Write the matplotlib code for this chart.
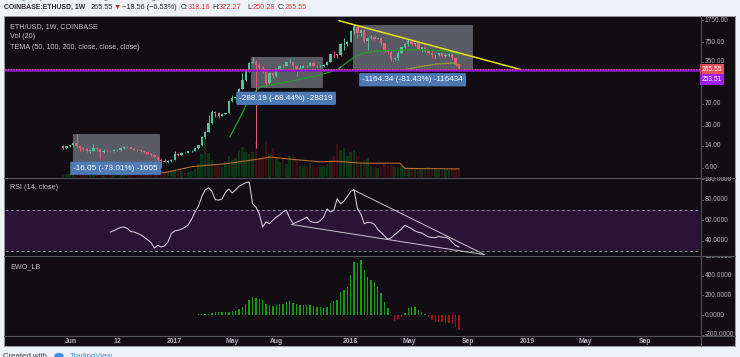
import numpy as np
import pandas as pd
import matplotlib
matplotlib.use("Agg")
import matplotlib.pyplot as plt
import matplotlib.dates as mdates
from matplotlib.patches import Rectangle
from matplotlib.lines import Line2D
from matplotlib.transforms import blended_transform_factory as blend

plt.rcParams['font.family'] = ['Liberation Sans', 'DejaVu Sans']

# ---------------- data ----------------
first_week = '2016-05-16'
opens = [13.9, 12.9, 13.6, 14.3, 15.5, 14.0, 12.6, 12.2, 11.5, 11.6,
         12.8, 12.2, 10.9, 11.6, 11.3, 11.2, 12.0, 11.8, 12.7, 13.2,
         13.1, 12.3, 11.9, 11.85, 11.2, 10.9, 10.3, 9.9, 8.9, 8.2,
         7.9, 7.6, 7.9, 8.2, 10.2, 9.7, 10.65, 10.55, 11.3, 11.4,
         12.8, 14.1, 19.3, 24.0, 33.5, 50.5, 50.0, 43.5, 48.0, 49.4,
         79.0, 88.0, 90.0, 125.0, 172.0, 245.0, 340.0, 355.0, 305.0, 290.0,
         240.0, 155.0, 225.0, 200.0, 270.0, 300.0, 295.0, 345.0, 352.0, 295.0,
         255.0, 282.0, 302.0, 298.0, 337.0, 300.0, 296.0, 298.0, 315.0, 355.0,
         470.0, 465.0, 450.0, 690.0, 700.0, 755.0, 1150.0, 1350.0, 1050.0, 1170.0,
         790.0, 860.0, 925.0, 840.0, 860.0, 720.0, 540.0, 520.0, 385.0, 400.0,
         500.0, 615.0, 685.0, 780.0, 685.0, 710.0, 570.0, 620.0, 525.0, 495.0,
         453.0, 456.0, 490.0, 435.0, 460.0, 465.0, 405.0, 318.16]
highs = [14.3, 13.9, 14.6, 15.9, 21.98, 14.4, 13.1, 12.6, 12.3, 14.9,
         13.1, 12.3, 12.1, 11.9, 11.6, 12.3, 12.2, 13.1, 13.6, 13.6,
         13.3, 12.6, 12.2, 12.0, 11.3, 11.1, 10.4, 10.2, 9.0, 8.5,
         8.4, 8.1, 8.5, 11.3, 10.6, 10.9, 10.8, 11.6, 11.7, 13.0,
         14.4, 19.9, 24.6, 44.6, 55.0, 53.5, 51.0, 49.0, 50.0, 80.0,
         98.0, 92.0, 130.0, 230.0, 250.0, 345.0, 421.1, 380.0, 330.0, 300.0,
         245.0, 240.0, 230.0, 275.0, 315.0, 320.0, 350.0, 395.0, 355.0, 310.0,
         305.0, 305.0, 305.0, 348.0, 345.0, 310.0, 310.0, 325.0, 357.0, 480.0,
         525.0, 475.0, 720.0, 880.0, 780.0, 1180.0, 1429.8, 1350.0, 1190.0, 1180.0,
         900.0, 970.0, 960.0, 890.0, 880.0, 730.0, 570.0, 530.0, 410.0, 530.0,
         630.0, 710.0, 835.0, 795.0, 730.0, 720.0, 625.0, 630.0, 540.0, 540.0,
         470.0, 500.0, 495.0, 485.0, 480.0, 470.0, 410.0, 322.27]
lows = [12.4, 12.2, 13.2, 13.8, 13.0, 11.2, 11.4, 11.0, 10.6, 11.5,
        11.3, 8.5, 10.7, 10.8, 10.9, 11.0, 11.3, 11.6, 12.5, 12.8,
        12.1, 11.8, 11.6, 11.0, 10.4, 10.2, 9.4, 8.6, 7.7, 5.93,
        7.4, 7.2, 7.5, 8.1, 9.4, 9.6, 10.4, 10.4, 10.9, 11.3,
        12.3, 14.0, 17.8, 23.5, 32.0, 42.5, 41.0, 43.0, 46.5, 49.0,
        76.0, 79.0, 86.0, 125.0, 170.0, 240.0, 335.0, 13.0, 270.0, 230.0,
        132.9, 150.0, 185.0, 195.0, 255.0, 280.0, 295.0, 330.0, 250.0, 200.0,
        250.0, 280.0, 285.0, 295.0, 295.0, 285.0, 285.0, 285.0, 305.0, 352.0,
        400.0, 410.0, 440.0, 560.0, 650.0, 740.0, 1020.0, 880.0, 960.0, 760.0,
        560.0, 840.0, 800.0, 835.0, 680.0, 520.0, 480.0, 360.0, 365.0, 375.0,
        490.0, 600.0, 650.0, 660.0, 655.0, 560.0, 520.0, 520.0, 475.0, 410.0,
        400.0, 440.0, 425.0, 430.0, 445.0, 395.0, 300.0, 250.28]
closes = [12.9, 13.6, 14.3, 15.5, 14.0, 12.6, 12.2, 11.5, 11.6, 12.8,
          12.2, 10.9, 11.6, 11.3, 11.2, 12.0, 11.8, 12.7, 13.2, 13.1,
          12.3, 11.9, 11.85, 11.2, 10.9, 10.3, 9.9, 8.9, 8.2, 7.9,
          7.6, 7.9, 8.2, 10.2, 9.7, 10.6, 10.55, 11.3, 11.4, 12.8,
          14.1, 19.3, 24.0, 33.5, 50.5, 50.0, 43.5, 48.0, 49.4, 79.0,
          88.0, 90.0, 125.0, 172.0, 245.0, 340.0, 355.0, 305.0, 290.0, 240.0,
          155.0, 225.0, 200.0, 270.0, 300.0, 295.0, 345.0, 352.0, 295.0, 255.0,
          282.0, 302.0, 298.0, 337.0, 300.0, 296.0, 298.0, 315.0, 355.0, 470.0,
          465.0, 450.0, 690.0, 700.0, 755.0, 1150.0, 1350.0, 1050.0, 1170.0, 790.0,
          860.0, 925.0, 840.0, 860.0, 720.0, 540.0, 520.0, 385.0, 400.0, 500.0,
          615.0, 685.0, 780.0, 685.0, 710.0, 570.0, 620.0, 525.0, 495.0, 455.0,
          456.0, 490.0, 435.0, 460.0, 465.0, 405.0, 318.16, 265.55]
volumes = [2, 3, 3, 4, 8, 5, 4, 4, 3, 4,
           5, 6, 3, 3, 3, 3, 3, 3, 3, 3,
           3, 3, 3, 3, 3, 3, 4, 4, 4, 5,
           5, 6, 5, 7, 6, 6, 5, 5, 6, 8,
           14, 24, 39, 25, 18, 14, 12, 10, 16, 22,
           18, 20, 28, 31, 26, 24, 26, 37, 20, 22,
           37, 24, 30, 20, 16, 20, 14, 22, 24, 18,
           12, 12, 10, 15, 12, 11, 10, 12, 14, 18,
           22, 35, 28, 30, 22, 26, 28, 22, 14, 18,
           20, 12, 10, 9, 10, 14, 12, 13, 11, 10,
           12, 10, 9, 8, 9, 8, 9, 8, 10, 8,
           8, 7, 7, 8, 7, 8, 9, 8]
volma_dates = ['2016-09-26', '2016-11-26', '2016-12-12', '2017-02-08', '2017-04-19',
               '2017-06-27', '2017-07-18', '2017-09-03', '2017-10-29', '2017-12-03',
               '2018-01-26', '2018-04-13', '2018-04-23', '2018-08-13']
volma_values = [3.5, 4, 4.5, 11, 14, 19, 21, 18.5, 16, 16.5, 14.5, 14.5, 9, 8.5]

tema50_dates = ['2017-04-26', '2017-05-23', '2017-06-06', '2017-06-27', '2017-08-22',
                '2017-10-29', '2017-12-03', '2018-01-06', '2018-01-26', '2018-02-25',
                '2018-04-19', '2018-05-24', '2018-07-19', '2018-08-11']
tema50_values = [19.5, 51, 91, 133, 161, 211, 256, 406, 492, 532, 552, 558, 532, 474]
tema100_dates = ['2018-04-19', '2018-05-24', '2018-06-28', '2018-07-31', '2018-08-11']
tema100_values = [256, 291, 323, 335, 310]

rsi_first = 14
rsi_values = [48.5, 49.8, 51.5, 53.0, 53.4, 52.0, 49.0, 48.5, 47.3, 45.7,
              43.5, 41.0, 38.2, 33.0, 35.5, 34.0, 35.0, 38.8, 47.0, 49.5,
              50.3, 51.3, 53.0, 55.5, 61.0, 68.0, 73.5, 83.0, 89.5, 91.5,
              88.0, 80.0, 79.5, 80.7, 87.0, 90.3, 86.5, 89.5, 93.0, 94.7,
              96.5, 97.1, 76.0, 72.8, 66.0, 53.4, 58.3, 56.6, 60.0, 63.0,
              65.0, 68.0, 69.6, 62.0, 56.6, 58.0, 59.5, 61.0, 63.0, 59.0,
              58.0, 57.6, 59.5, 63.0, 71.0, 68.0, 69.6, 80.9, 76.0, 78.5,
              83.0, 88.0, 89.6, 71.0, 66.0, 56.6, 58.0, 57.5, 56.0, 51.0,
              48.0, 44.5, 41.5, 43.0, 46.0, 48.5, 51.5, 55.0, 53.5, 51.8,
              49.5, 48.3, 47.6, 45.5, 43.7, 43.3, 43.0, 44.4, 43.4, 43.5,
              42.0, 38.5, 35.5, 34.0]
ewo_first = 40
ewo_values = [7, 7, 7, 14, 17, 27, 27, 27, 27, 34,
              45, 45, 62, 79, 110, 155, 179, 175, 168, 148,
              113, 103, 93, 100, 113, 117, 131, 141, 127, 110,
              100, 103, 103, 107, 93, 86, 82, 76, 86, 124,
              144, 151, 230, 258, 289, 412, 543, 533, 557, 460,
              385, 361, 333, 285, 223, 131, 69, -10, -58, -45,
              -17, 17, 69, 86, 86, 52, 34, 7, -21, -52,
              -69, -69, -76, -79, -86, -93, -120, -155]

range_starts = ['2016-06-05', '2017-06-08', '2018-01-06']
range_ends = ['2016-11-30', '2017-11-02', '2018-09-09']
range_highs = [21.98, 421.1, 1429.8]
range_lows = [5.93, 132.91, 265.46]
range_labels = ['-16.05 (-73.01%) -1605', '-288.19 (-68.44%) -28819',
                '-1164.34 (-81.43%) -116434']

trend_dates = ['2017-12-08', '2018-12-20']
trend_prices = [1703, 259]
support_level = 253.51
last_price = 265.55

rsi_up_dates = ['2018-01-06', '2018-10-05']
rsi_up_values = [89.6, 26.5]
rsi_lo_dates = ['2017-08-31', '2018-10-05']
rsi_lo_values = [55.9, 26.5]

price_ticks = [6, 14, 30, 70, 150, 350, 750, 1750]
rsi_ticks = [40, 60, 80, 100]
ewo_ticks = [-200, 0, 200, 400, 600]
time_tick_dates = ['2016-06-01', '2016-09-05', '2017-01-02', '2017-05-01', '2017-08-01',
                   '2018-01-01', '2018-05-01', '2018-09-01', '2019-01-01', '2019-05-01',
                   '2019-09-01']
time_tick_labels = ['Jun', '12', '2017', 'May', 'Aug', '2018', 'May', 'Sep', '2019', 'May', 'Sep']

# ---------------- layout helpers ----------------
W, H = 740, 357
def R(x0, y0, x1, y1):
    return [x0 / W, 1 - y1 / H, (x1 - x0) / W, (y1 - y0) / H]

def D(s):
    return mdates.date2num(pd.Timestamp(s))

dates = pd.date_range(first_week, periods=len(closes), freq='W-MON')
xd = mdates.date2num(dates)
o, h, l, c = map(np.array, (opens, highs, lows, closes))
X0 = D(first_week)
XL = (X0 - 119.9, X0 + 1317.3)

BG = '#110d13'
UP, DN = '#52c497', '#e2607a'
TXT = '#c4c4c8'
AXTXT = '#b4b4ba'

fig = plt.figure(figsize=(7.4, 3.57), dpi=100)
fig.patch.set_facecolor('#eef1f5')

bg = fig.add_axes(R(4, 16, 735, 346))
bg.set_facecolor(BG)
bg.set_xticks([]); bg.set_yticks([])
for s in bg.spines.values():
    s.set_color('#9a9aa0'); s.set_linewidth(0.7)

def panel(rect):
    a = fig.add_axes(rect)
    a.patch.set_alpha(0)
    a.set_xticks([]); a.set_yticks([])
    for s in a.spines.values():
        s.set_visible(False)
    a.set_xlim(*XL)
    return a

# volume
axv = panel(R(5, 17, 700, 177))
axv.set_ylim(0, 168)
vcol = ['#0b3814' if cc >= oo else '#3e0d15' for oo, cc in zip(o, c)]
axv.bar(xd, volumes, width=5.4, color=vcol, linewidth=0)
axv.plot([D(d) for d in volma_dates], volma_values, color='#b86a30', lw=0.8)

# main price
ax = panel(R(5, 17, 700, 177))
ax.set_yscale('log')
ax.set_ylim(4.197, 1964)
ax.set_xticks([]); ax.set_yticks([])
ax.yaxis.set_minor_locator(matplotlib.ticker.NullLocator())

for s, e, hi, lo in zip(range_starts, range_ends, range_highs, range_lows):
    ax.add_patch(Rectangle((D(s), lo), D(e) - D(s), hi - lo, fc='#a3a9b8', alpha=0.5,
                           ec='#b8bdc8', lw=0.4, zorder=1))

cols = [UP if cc >= oo else DN for oo, cc in zip(o, c)]
ax.vlines(xd, l, h, colors=cols, lw=0.7, zorder=3)
body_lo = np.minimum(o, c)
body_h = np.maximum(np.abs(c - o), body_lo * 0.012)
ax.bar(xd, body_h, bottom=body_lo, width=4.8, color=cols, linewidth=0, zorder=4)

ax.plot([D(d) for d in tema50_dates], tema50_values, color='#1f9f25', lw=0.9, zorder=5)
ax.plot([D(d) for d in tema100_dates], tema100_values, color='#8e9a30', lw=0.9, zorder=5)
ax.plot([D(d) for d in trend_dates], trend_prices, color='#e4e41a', lw=1.1, zorder=6)
ax.axhline(support_level, color='#8f18cf', lw=1.8, zorder=6)
ax.axhline(last_price, color='#e4596a', lw=0.8, ls=(0, (1, 1.4)), zorder=7)

label_off_pt = [-0.2, -8.1, -7.7]
for s, e, lo, txt, off in zip(range_starts, range_ends, range_lows, range_labels, label_off_pt):
    ax.annotate(txt, xy=((D(s) + D(e)) / 2, lo), xytext=(0, off), textcoords='offset points',
                ha='center', va='center', color='white', fontsize=5.9, zorder=8,
                bbox=dict(boxstyle='round,pad=0.38,rounding_size=0.15', fc='#4d79b4', ec='none'))

# RSI
axr = panel(R(5, 178, 700, 255))
axr.set_ylim(26.2, 101)
axr.axhspan(30, 70, color='#2a1336', lw=0)
for lv in (30, 70):
    axr.axhline(lv, color='#8e8a96', lw=0.7, ls=(0, (3, 2.5)))
axr.plot(mdates.date2num(dates[rsi_first:]), rsi_values, color='#d6d0dc', lw=0.75)
axr.plot([D(d) for d in rsi_up_dates], rsi_up_values, color='#c9c6d0', lw=0.7)
axr.plot([D(d) for d in rsi_lo_dates], rsi_lo_values, color='#c9c6d0', lw=0.7)

# EWO
axe = panel(R(5, 256, 700, 335))
axe.set_ylim(-204, 602)
ev = np.array(ewo_values)
axe.bar(mdates.date2num(dates[ewo_first:]), ev, width=2.9,
        color=['#179c17' if v >= 0 else '#a51212' for v in ev], linewidth=0)

# separators
def hline(y, x0=4, x1=735, col='#55555c', lw=0.8):
    fig.add_artist(Line2D([x0 / W, x1 / W], [1 - y / H] * 2, color=col, lw=lw))
hline(177.5); hline(255.5); hline(335.5)
fig.add_artist(Line2D([700.5 / W] * 2, [1 - 16 / H, 1 - 346 / H], color='#55555c', lw=0.8))

# right scales
def scale(y0, y1, pax, ticks, fmt):
    sa = panel(R(700.5, y0, 735, y1))
    sa.set_xlim(0, 1)
    sa.set_yscale(pax.get_yscale())
    # map the panel's value range onto this (possibly taller) strip
    p0, p1 = pax.get_position().y0, pax.get_position().y1
    q0, q1 = sa.get_position().y0, sa.get_position().y1
    lo, hi = pax.get_ylim()
    if pax.get_yscale() == 'log':
        f = lambda v: np.log10(v)
        g = lambda v: 10 ** v
    else:
        f = lambda v: v
        g = lambda v: v
    k = (f(hi) - f(lo)) / (p1 - p0)
    sa.set_ylim(g(f(lo) + (q0 - p0) * k), g(f(lo) + (q1 - p0) * k))
    sa.yaxis.set_minor_locator(matplotlib.ticker.NullLocator())
    sa.set_yticks([])
    for t in ticks:
        sa.text(0.13, t, fmt.format(t), fontsize=4.8, color=AXTXT, ha='left', va='center',
                clip_on=True)
        sa.plot([0, 0.06], [t, t], color='#8a8a90', lw=0.5, clip_on=True)
    return sa

sm = scale(17, 177.5, ax, price_ticks, '{:.2f}')
sr = scale(176.5, 255.5, axr, rsi_ticks, '{:.4f}')
se = scale(255.5, 335.5, axe, ewo_ticks, '{:.4f}')

sm.annotate('{:.2f}'.format(last_price), xy=(0.04, last_price), xytext=(0, 0),
            textcoords='offset points', ha='left', va='center', fontsize=4.8, color='white',
            bbox=dict(boxstyle='square,pad=0.3', fc='#e5505c', ec='none'), zorder=10)
sm.annotate('{:.2f}'.format(support_level), xy=(0.04, last_price), xytext=(0, -7.4),
            textcoords='offset points', ha='left', va='center', fontsize=4.8, color='white',
            bbox=dict(boxstyle='square,pad=0.3', fc='#a11cf0', ec='none'), zorder=10)

# time axis
tt = blend(axe.transData, fig.transFigure)
for d, lab in zip(time_tick_dates, time_tick_labels):
    axe.text(D(d), 1 - 341.5 / H, lab, transform=tt, fontsize=4.9, color=AXTXT,
             fontweight='bold', ha='center', va='center', clip_on=False)
    axe.add_artist(Line2D([D(d)] * 2, [1 - 335.5 / H, 1 - 337.5 / H], transform=tt,
                          color='#8a8a90', lw=0.5))

# panel legends
def ftext(x, y, s, **kw):
    fig.text(x / W, 1 - y / H, s, va='center', ha='left', **kw)

ftext(10, 26.5, 'ETH/USD, 1W, COINBASE', fontsize=5.2, color=TXT)
ftext(10, 37, 'Vol (20)', fontsize=5.2, color=TXT)
ftext(10, 47.5, 'TEMA (50, 100, 200, close, close, close)', fontsize=5.2, color=TXT)
ftext(10, 187.7, 'RSI (14, close)', fontsize=5.2, color=TXT)
ftext(10, 266.7, 'EWO_LB', fontsize=5.2, color=TXT)

# header
RED = '#e0393e'
DK = '#2c2c30'
ftext(4, 7.6, 'COINBASE:ETHUSD, 1W', fontsize=4.95, color=DK, fontweight='bold')
ftext(90.5, 7.6, '265.55', fontsize=5.3, color=DK)
ftext(113.5, 7.6, '\u25BC', fontsize=5.3, color='#d0202a')
ftext(122, 7.6, '\u221218.56 (\u22126.53%)', fontsize=5.3, color=DK)
for xl, lab, xv, val in [(181, 'O:', 188, '318.16'), (212, 'H:', 219, '322.27'),
                         (247, 'L:', 253, '250.28'), (278, 'C:', 285, '265.55')]:
    ftext(xl, 7.6, lab, fontsize=5.3, color=DK)
    ftext(xv, 7.6, val, fontsize=5.3, color=RED)

# cropped top / bottom lines (cut by the image edge, as in the original)
fig.text(4 / W, 1 - 1.2 / H, 'tradingview', fontsize=5.3, color='#5b8fd8', va='bottom', ha='left')
fig.text(40 / W, 1 - 1.2 / H, 'published on TradingView.com, August 14, 2018 15:02:10 UTC',
         fontsize=5.3, color='#6a6a70', va='bottom', ha='left')
fig.text(3 / W, 1 - 352.8 / H, 'Created with', fontsize=5.6, color='#3a3a40', va='top', ha='left')
fig.add_artist(matplotlib.patches.Ellipse((59 / W, 1 - 356 / H), 8 / W, 5 / H,
                                          color='#3f8be0', transform=fig.transFigure))
fig.text(70 / W, 1 - 352.8 / H, 'TradingView', fontsize=5.6, color='#3f8be0', va='top', ha='left')

fig.savefig('out.png', dpi=100, facecolor=fig.get_facecolor())
